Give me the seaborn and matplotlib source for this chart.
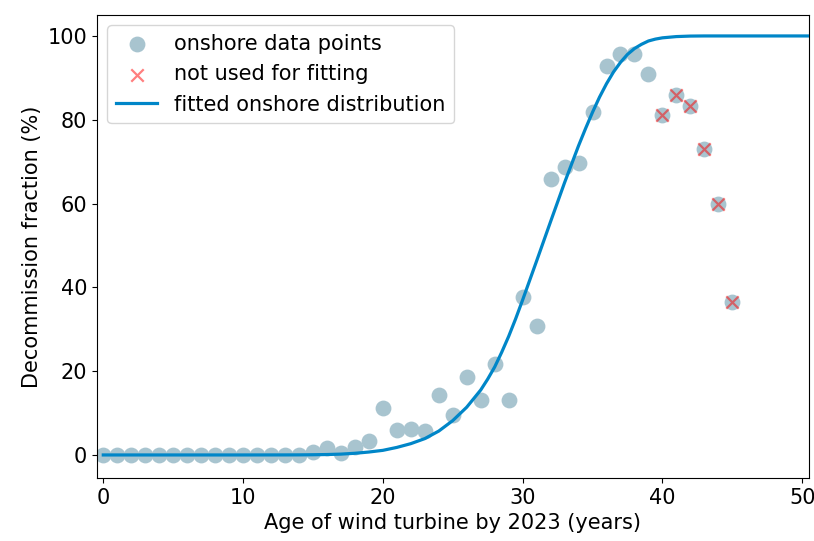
import matplotlib
matplotlib.use("Agg")
import matplotlib.pyplot as plt
import seaborn as sns
import pandas as pd

# observed onshore decommission fractions (%) by turbine age
ages = list(range(0, 46))
fractions = [0, 0, 0, 0, 0, 0, 0, 0, 0, 0,
             0, 0, 0, 0, 0, 0.8, 1.6, 0.4, 2.0, 3.3,
             11.2, 5.9, 6.1, 5.8, 14.3, 9.5, 18.7, 13.1, 21.8, 13.1,
             37.6, 30.7, 65.9, 68.8, 69.7, 81.9, 92.8, 95.8, 95.8, 90.9,
             81.1, 85.8, 83.2, 73.1, 59.8, 36.5]

# points left out of the fit
excluded_ages = [40, 41, 42, 43, 44, 45]
excluded_fractions = [81.1, 85.8, 83.2, 73.1, 59.8, 36.5]

# fitted distribution
fit_ages = [0, 5, 10, 13, 14, 15, 16, 17, 18, 19,
            20, 21, 22, 23, 24, 25, 26, 27, 27.5, 28,
            28.5, 29, 29.5, 30, 31, 32, 33, 34, 34.5, 35,
            35.5, 36, 36.5, 37, 37.5, 38, 38.5, 39, 39.5, 40,
            41, 42, 43, 45, 51]
fit_values = [0, 0, 0, 0.01, 0.02, 0.05, 0.1, 0.2, 0.4, 0.7,
              1.1, 1.8, 2.7, 3.9, 5.7, 8.2, 11.4, 15.5, 18.1, 21.0,
              24.5, 28.3, 32.5, 37.0, 46.3, 55.7, 65.0, 73.8, 77.9, 81.8,
              85.4, 88.6, 91.4, 93.7, 95.6, 97.0, 98.0, 98.8, 99.25, 99.55,
              99.85, 99.97, 100, 100, 100]

POINT_COLOR = "#a8c4cf"
LINE_COLOR = "#0086c8"

plt.rcParams.update({"font.size": 15, "font.family": "DejaVu Sans"})

fig = plt.figure(figsize=(8.14, 5.41), dpi=100)
ax = fig.add_axes([97 / 814, 1 - 478 / 541, (808.5 - 97) / 814, (478 - 15) / 541])

points = pd.DataFrame({"age": ages, "fraction": fractions})
excluded = pd.DataFrame({"age": excluded_ages, "fraction": excluded_fractions})
fit = pd.DataFrame({"age": fit_ages, "fraction": fit_values})

sns.scatterplot(data=points, x="age", y="fraction", ax=ax, color=POINT_COLOR,
                s=130, linewidth=0, label="onshore data points", zorder=2)
sns.scatterplot(data=excluded, x="age", y="fraction", ax=ax, color="red", alpha=0.5,
                marker="x", s=80, linewidth=1.6, label="not used for fitting", zorder=3)
sns.lineplot(data=fit, x="age", y="fraction", ax=ax, color=LINE_COLOR, linewidth=2.3,
             label="fitted onshore distribution", zorder=4)

ax.set_xlim(-0.45, 50.45)
ax.set_ylim(-5.5, 105)
ax.set_xticks([0, 10, 20, 30, 40, 50])
ax.set_yticks([0, 20, 40, 60, 80, 100])
ax.set_xlabel("Age of wind turbine by 2023 (years)")
ax.set_ylabel("Decommission fraction (%)")
ax.legend(loc="upper left", fontsize=15)

fig.savefig("out.png", dpi=100)
plt.close(fig)
